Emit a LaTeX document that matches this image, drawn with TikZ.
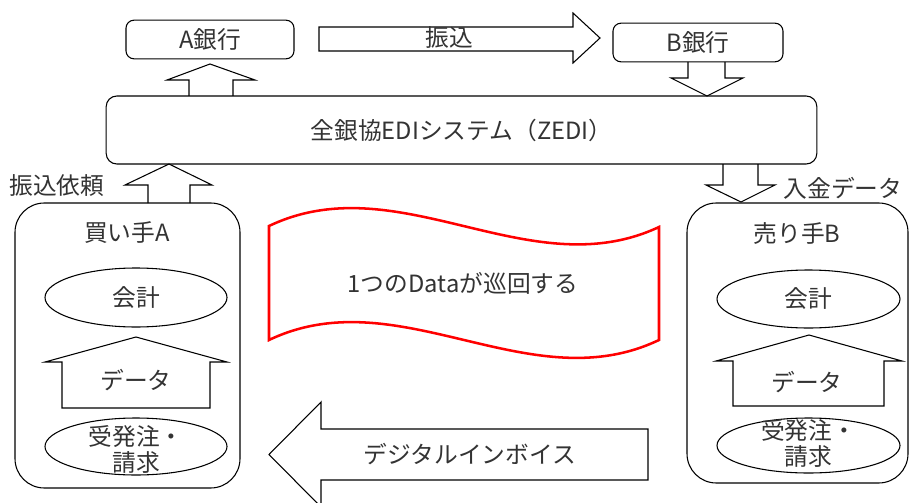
\documentclass[tikz,border=0pt]{standalone}
\usepackage{fontspec}
\setmainfont{Noto Sans CJK JP}
\usetikzlibrary{shapes.geometric}

\begin{document}
\begin{tikzpicture}[
    x=0.75pt, y=-0.75pt,
    every node/.style={font=\fontsize{17.8pt}{19.5pt}\selectfont, text=black!80},
    bank/.style={rectangle, draw, line width=0.8pt, rounded corners=6pt, minimum width=126pt, minimum height=29pt},
    party/.style={rectangle, draw, line width=0.8pt, rounded corners=22pt},
    task/.style={ellipse, draw, line width=0.8pt, inner sep=0pt},
    blockarrow/.style={draw, line width=0.8pt},
    wave/.style={draw=red, line width=1.9pt}
]
\useasboundingbox (0,0) rectangle (910,503);

\node[bank] (abank) at (210,39.5) {A銀行};
\node[bank, minimum width=127.5pt] (bbank) at (698,42.5) {B銀行};
\node[bank, rounded corners=8pt, minimum width=533pt, minimum height=51pt] (zedi) at (461.5,130) {全銀協EDIシステム（ZEDI）};

\node[party, minimum width=168.75pt, minimum height=213.75pt] (buyer) at (127.5,345.5) {};
\node (buyername) at (127,233) {買い手A};
\node[party, minimum width=165.75pt, minimum height=210pt] (seller) at (797.5,343) {};
\node (sellername) at (797,233) {売り手B};

% bank arrows
\draw[blockarrow] (189,96) -- (189,80) -- (167,80) -- (210,64) -- (255,80) -- (233,80) -- (233,96);
\draw[blockarrow] (319,27) -- (573,27) -- (573,13) -- (600,38) -- (573,63) -- (573,51) -- (319,51) -- cycle;
\node (transfer) at (449,38) {振込};
\draw[blockarrow] (688,62) -- (688,78) -- (671,78) -- (707,96) -- (743,78) -- (725,78) -- (725,62);

% buyer and seller to ZEDI
\draw[blockarrow] (148,203) -- (148,185) -- (125,185) -- (169,164) -- (212,185) -- (190,185) -- (190,203);
\node (request) at (57,186) {振込依頼};
\draw[blockarrow] (723,164) -- (723,185) -- (706,185) -- (741,202) -- (775,185) -- (758,185) -- (758,164);
\node (deposit) at (843,188) {入金データ};

% buyer side
\node[task, minimum width=136.5pt, minimum height=44.25pt] (buyeracct) at (136,297.5) {会計};
\draw[blockarrow] (62,408) -- (62,362) -- (45,362) -- (136,337) -- (227,362) -- (210,362) -- (210,408) -- cycle;
\node (buyerdata) at (136,380) {データ};
\node[task, minimum width=136.5pt, minimum height=42.75pt] (buyerorder) at (136,446.5) {};
\node[align=center] (buyerordertext) at (136,449.5) {受発注・\\請求};

% seller side
\node[task, minimum width=137.25pt, minimum height=43.5pt] (selleracct) at (808.5,299) {会計};
\draw[blockarrow] (733,406) -- (733,361) -- (716,361) -- (809,335) -- (902,361) -- (884,361) -- (884,406) -- cycle;
\node (sellerdata) at (807,382) {データ};
\node[task, minimum width=137.25pt, minimum height=41.25pt] (sellerorder) at (808.5,445.5) {};
\node[align=center] (sellerordertext) at (808.5,443.5) {受発注・\\請求};

% middle
\draw[wave] (269,226) .. controls (399,164) and (529,288) .. (659,227) -- (659,340) .. controls (529,402) and (399,278) .. (269,340) -- cycle;
\node (loopnote) at (463,283) {1つのDataが巡回する};
\draw[blockarrow] (648,429) -- (321,429) -- (321,402) -- (269,454.5) -- (321,507) -- (321,480) -- (648,480) -- cycle;
\node (invoice) at (470,454) {デジタルインボイス};

\end{tikzpicture}
\end{document}
